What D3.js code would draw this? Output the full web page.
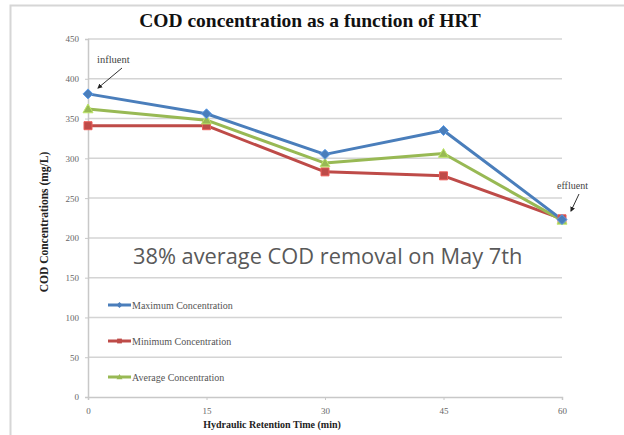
<!DOCTYPE html>
<html><head><meta charset="utf-8">
<script src="https://cdn.jsdelivr.net/npm/d3@7"></script>
<style>body{margin:0;background:#fff}svg{display:block}</style>
</head><body>
<svg id="c" width="624" height="435"></svg>
<script>
const times = [0, 15, 30, 45, 60];
const maxConc = [381, 356, 305, 335, 223];
const minConc = [341, 341, 283, 278, 224];
const avgConc = [362, 348, 294, 306, 222];
const yTicks = [0, 50, 100, 150, 200, 250, 300, 350, 400, 450];
const seriesNames = ["Maximum Concentration", "Minimum Concentration", "Average Concentration"];
const seriesColors = ["#4a7ebb", "#be4b48", "#98b954"];
const seriesShapes = ["diamond", "square", "triangle"];

const svg = d3.select("#c");
const W = 624, H = 435;
const m = {l: 88, r: 62, t: 39, b: 38};
const x = d3.scaleLinear().domain([0, 60]).range([m.l, W - m.r]);
const y = d3.scaleLinear().domain([0, 450]).range([H - m.b, m.t]);
const serif = "'Liberation Serif','Times New Roman',serif";

function shapePath(type, s) {
  const h = s / 2;
  if (type === "diamond") return `M0,${-h}L${h},0L0,${h}L${-h},0Z`;
  if (type === "square") { const q = h * 0.8; return `M${-q},${-q}H${q}V${q}H${-q}Z`; }
  return `M0,${-h}L${h},${h * 0.75}L${-h},${h * 0.75}Z`;
}

// outer frame (top and left edges)
svg.append("path").attr("d", `M10.5,${H} V5.5 H${W}`).attr("fill", "none").attr("stroke", "#d6d6d6").attr("stroke-width", 2);

// gridlines
svg.append("g").selectAll("line").data(yTicks.filter(d => d > 0)).join("line")
  .attr("x1", x(0)).attr("x2", x(60)).attr("y1", d => y(d)).attr("y2", d => y(d))
  .attr("stroke", "#d4d4d4").attr("stroke-width", 1.5);

// axes
const xAxis = svg.append("g").attr("transform", `translate(0,${y(0)})`)
  .call(d3.axisBottom(x).tickValues(times).tickSize(3).tickPadding(8));
const yAxis = svg.append("g").attr("transform", `translate(${x(0)},0)`)
  .call(d3.axisLeft(y).tickValues(yTicks).tickSize(3).tickPadding(6));
[xAxis, yAxis].forEach(a => {
  a.select(".domain").attr("stroke", "#c8c8c8").attr("stroke-width", 1.5);
  a.selectAll(".tick line").attr("stroke", "#c8c8c8");
  a.selectAll("text").attr("font-family", serif).attr("font-size", 9).attr("fill", "#666");
});

// titles
svg.append("text").attr("x", 310).attr("y", 27).attr("text-anchor", "middle")
  .attr("font-family", serif).attr("font-weight", "bold").attr("font-size", 19.5).attr("fill", "#111")
  .text("COD concentration as a function of HRT");
svg.append("text").attr("x", 272).attr("y", 428).attr("text-anchor", "middle")
  .attr("font-family", serif).attr("font-weight", "bold").attr("font-size", 10).attr("fill", "#222")
  .text("Hydraulic Retention Time (min)");
svg.append("text").attr("transform", "translate(48,222) rotate(-90)").attr("text-anchor", "middle")
  .attr("font-family", serif).attr("font-weight", "bold").attr("font-size", 11.5).attr("fill", "#222")
  .text("COD Concentrations (mg/L)");

// series
const data = [maxConc, minConc, avgConc];
const line = d3.line().x((d, i) => x(times[i])).y(d => y(d));
const order = [1, 2, 0];
order.forEach(k => {
  svg.append("path").datum(data[k]).attr("d", line).attr("fill", "none")
    .attr("stroke", seriesColors[k]).attr("stroke-width", 3).attr("stroke-linejoin", "round");
});
order.forEach(k => {
  svg.append("g").selectAll("path").data(data[k]).join("path")
    .attr("transform", (d, i) => `translate(${x(times[i])},${y(d)})`)
    .attr("d", shapePath(seriesShapes[k], 10))
    .attr("fill", seriesColors[k]).attr("stroke", d3.color(seriesColors[k]).brighter(0.6)).attr("stroke-width", 1);
});

// legend
const legY = [305, 341, 377];
seriesNames.forEach((n, k) => {
  const g = svg.append("g").attr("transform", `translate(108,${legY[k]})`);
  g.append("line").attr("x1", 0).attr("x2", 23).attr("stroke", seriesColors[k]).attr("stroke-width", 3);
  g.append("path").attr("transform", "translate(11.5,0)").attr("d", shapePath(seriesShapes[k], 6)).attr("fill", seriesColors[k]);
  g.append("text").attr("x", 24).attr("y", 3.5).attr("font-family", serif).attr("font-size", 10).attr("fill", "#555").text(n);
});

// annotation text
svg.append("text").attr("x", 133).attr("y", 264).attr("font-family", "'Open Sans',sans-serif")
  .attr("font-size", 21.8).attr("fill", "#595959").text("38% average COD removal on May 7th");

// arrows
const defs = svg.append("defs");
defs.append("marker").attr("id", "ah").attr("viewBox", "0 0 10 10").attr("refX", 8).attr("refY", 5)
  .attr("markerWidth", 5).attr("markerHeight", 5).attr("orient", "auto")
  .append("path").attr("d", "M0,0 L10,5 L0,10 z").attr("fill", "#222");
svg.append("text").attr("x", 97).attr("y", 63).attr("font-family", serif).attr("font-size", 10.5).attr("fill", "#444").text("influent");
svg.append("line").attr("x1", 122).attr("y1", 68).attr("x2", 98).attr("y2", 88).attr("stroke", "#333").attr("stroke-width", 1).attr("marker-end", "url(#ah)");
svg.append("text").attr("x", 557).attr("y", 189).attr("font-family", serif).attr("font-size", 10).attr("fill", "#444").text("effluent");
svg.append("line").attr("x1", 579).attr("y1", 194).attr("x2", 571).attr("y2", 211).attr("stroke", "#333").attr("stroke-width", 1).attr("marker-end", "url(#ah)");
</script>
</body></html>
